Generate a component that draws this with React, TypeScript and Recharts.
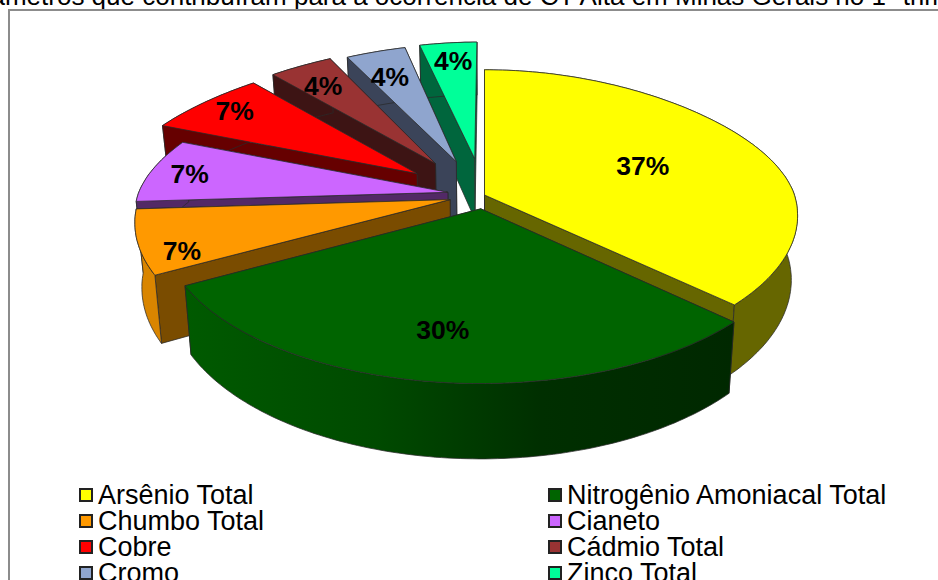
import { PieChart, Pie } from "recharts";

const sliceNames = [
  "Arsênio Total",
  "Zinco Total",
  "Cromo",
  "Cádmio Total",
  "Cobre",
  "Cianeto",
  "Chumbo Total",
  "Nitrogênio Amoniacal Total",
];
const sliceValues = [37, 4, 4, 4, 7, 7, 7, 30];
const sliceFills = ["#ffff00", "#00ff99", "#8fa5ce", "#993333", "#ff0000", "#cc66ff", "#ff9900", "#006400"];
const edgeFills = ["#666600", "#00663d", "#3b4459", "#3d1414", "#660000", "#522966", "#7a4c00", "#003000"];
const wallFills = ["#666600", "#00663d", "#3b4459", "#3d1414", "#660000", "#522966", "#d98500", "url(#greenWall)"];
const explosions = [0, 0.265, 0.258, 0.28, 0.27, 0.12, 0.115, 0.095];
const labelRadii = [0.58, 0.85, 0.85, 0.85, 0.85, 0.8, 0.8, 0.7];
const labelNudgeX = [0, 2, 5, 6, 2, -20, -20, -7];
const labelNudgeY = [3, 3, 10, 7, -1, -1, 18, 6];

const legendLeft = ["Arsênio Total", "Chumbo Total", "Cobre", "Cromo"];
const legendLeftFills = ["#ffff00", "#ff9900", "#ff0000", "#8fa5ce"];
const legendRight = ["Nitrogênio Amoniacal Total", "Cianeto", "Cádmio Total", "Zinco Total"];
const legendRightFills = ["#006400", "#cc66ff", "#993333", "#00ff99"];

const chartData = sliceNames.map((name, i) => ({
  name,
  value: sliceValues[i],
  fill: sliceFills[i],
  edge: edgeFills[i],
  wall: wallFills[i],
  explode: explosions[i],
  labelRadius: labelRadii[i],
  nudgeX: labelNudgeX[i],
  nudgeY: labelNudgeY[i],
}));

const TILT = 144 / 310;
const PERSPECTIVE = 0.15;
const DEPTH = 63;
const BASE_SHRINK = 0.98;
const OUTLINE = "#2a2a2a";

// Projects a point of the pie plane (radius = 1) to the screen, nearer points get larger.
// The rear of the disc narrows a little faster than it flattens.
function project(cx: number, cy: number, r: number, u: number, v: number) {
  const s = 1 / (1 - PERSPECTIVE * v);
  const sx = 1 / (v < 0 ? 1 - 0.16 * v + 0.1 * v * v : 1 - 0.14 * v);
  return { x: cx + r * u * sx, y: cy + r * TILT * v * s, s };
}

function lowered(cx: number, p: { x: number; y: number; s: number }) {
  return { x: cx + (p.x - cx) * BASE_SHRINK, y: p.y + DEPTH * p.s };
}

const toPath = (pts: { x: number; y: number }[]) =>
  pts.map((p, i) => `${i ? "L" : "M"}${p.x.toFixed(1)} ${p.y.toFixed(1)}`).join("") + "Z";

function Slice3D(props: any) {
  const { cx, cy, outerRadius: r, startAngle, endAngle, payload } = props;
  const d = payload ?? props;
  const mid = (((startAngle + endAngle) / 2) * Math.PI) / 180;
  const ou = Math.cos(mid) * d.explode;
  const ov = -Math.sin(mid) * d.explode;
  const at = (u: number, v: number) => project(cx, cy, r, u + ou, v + ov);

  const rim = [];
  for (let a = startAngle; a < endAngle; a += 1) {
    const t = (a * Math.PI) / 180;
    rim.push(at(Math.cos(t), -Math.sin(t)));
  }
  const t = (endAngle * Math.PI) / 180;
  rim.push(at(Math.cos(t), -Math.sin(t)));
  const apex = at(0, 0);
  const first = rim[0];
  const last = rim[rim.length - 1];
  const wall = [...rim, ...rim.map((p) => lowered(cx, p)).reverse()];

  return (
    <g>
      <path d={toPath([apex, first, lowered(cx, first), lowered(cx, apex)])} fill={d.edge} stroke={OUTLINE} strokeWidth={0.75} />
      <path d={toPath([apex, last, lowered(cx, last), lowered(cx, apex)])} fill={d.edge} stroke={OUTLINE} strokeWidth={0.75} />
      <path d={toPath(wall)} fill={d.wall} stroke={OUTLINE} strokeWidth={0.75} />
      <path d={toPath([apex, ...rim])} fill={d.fill} stroke={OUTLINE} strokeWidth={0.75} />
    </g>
  );
}

function SliceLabel(props: any) {
  const { cx, cy, outerRadius: r, midAngle, payload, value } = props;
  const d = payload ?? props;
  const t = (midAngle * Math.PI) / 180;
  const p = project(cx, cy, r, Math.cos(t) * (d.labelRadius + d.explode), -Math.sin(t) * (d.labelRadius + d.explode));
  return (
    <text x={p.x + d.nudgeX} y={p.y + d.nudgeY} textAnchor="middle" dominantBaseline="central" fontSize={26.5} fontWeight="bold" fontFamily="Liberation Sans" fill="#000">
      {`${value}%`}
    </text>
  );
}

function LegendColumn({ names, fills, left }: { names: string[]; fills: string[]; left: number }) {
  return (
    <div style={{ position: "absolute", left, top: 482, fontFamily: "Liberation Sans", fontSize: 27, lineHeight: "26px", color: "#000" }}>
      {names.map((name, i) => (
        <div key={name} style={{ display: "flex", alignItems: "center", height: 26, whiteSpace: "nowrap" }}>
          <span style={{ width: 10, height: 10, marginRight: 5, border: "2px solid #222", background: fills[i] }} />
          {name}
        </div>
      ))}
    </div>
  );
}

export default function App() {
  return (
    <div style={{ position: "fixed", left: 0, top: 0, width: 938, height: 580, overflow: "hidden", background: "#fff" }}>
      <div style={{ position: "absolute", left: -50, top: -19, width: 1200, fontFamily: "Liberation Sans", fontSize: 26, whiteSpace: "nowrap", color: "#000" }}>
        Parâmetros que contribuíram para a ocorrência de CT Alta em Minas Gerais no 1º trimestre
      </div>
      <div style={{ position: "absolute", left: 8, top: 9, width: 1000, height: 640, border: "2px solid #8c8c8c" }} />
      <div style={{ position: "absolute", left: 0, top: 0 }}>
        <PieChart width={938} height={580} margin={{ top: 0, right: 0, bottom: 0, left: 0 }}>
          <defs>
            <linearGradient id="greenWall" x1="0" y1="0" x2="1" y2="0">
              <stop offset="0" stopColor="#005a00" />
              <stop offset="0.35" stopColor="#004a00" />
              <stop offset="0.65" stopColor="#002f00" />
              <stop offset="1" stopColor="#002800" />
            </linearGradient>
          </defs>
          <Pie
            data={chartData}
            dataKey="value"
            nameKey="name"
            cx={484.5}
            cy={195}
            innerRadius={0}
            outerRadius={310}
            startAngle={-43.2}
            endAngle={316.8}
            shape={Slice3D}
            label={SliceLabel}
            labelLine={false}
            stroke="none"
            isAnimationActive={false}
          />
        </PieChart>
      </div>
      <LegendColumn names={legendLeft} fills={legendLeftFills} left={79} />
      <LegendColumn names={legendRight} fills={legendRightFills} left={548} />
    </div>
  );
}
